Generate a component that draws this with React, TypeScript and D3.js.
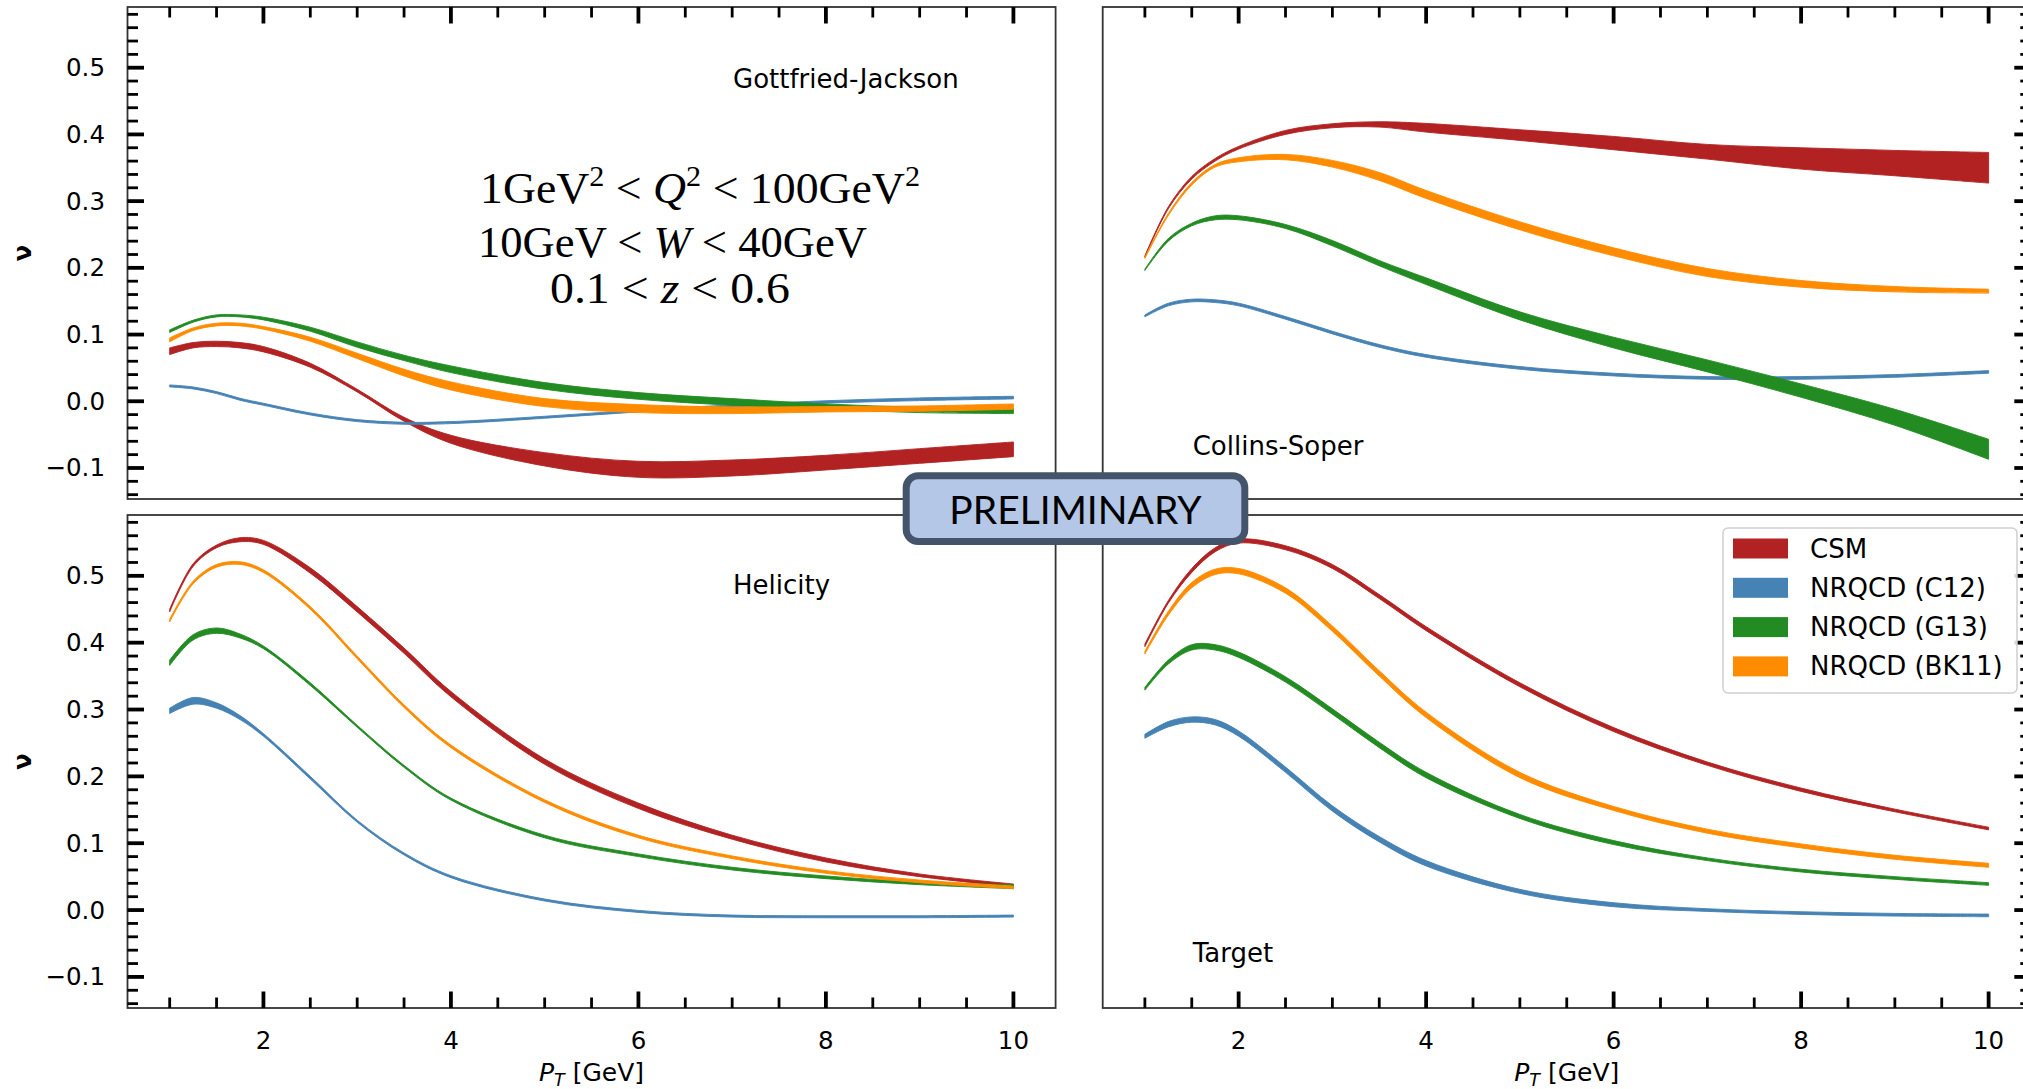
import React from 'react';
import * as d3 from 'd3';

// ---------- data ----------
const PT = [1, 1.25, 1.5, 1.75, 2, 2.5, 3, 3.5, 4, 5, 6, 7, 8, 9, 10];

// Gottfried-Jackson frame
const GJ_CSM = [0.075, 0.084, 0.086, 0.084, 0.078, 0.054, 0.016, -0.027, -0.057, -0.087, -0.102, -0.1, -0.092, -0.082, -0.072];
const GJ_CSM_ERR = [0.005, 0.004, 0.004, 0.004, 0.004, 0.003, 0.002, 0.003, 0.006, 0.01, 0.012, 0.012, 0.011, 0.011, 0.011];
const GJ_C12 = [0.023, 0.02, 0.013, 0.003, -0.0045, -0.019, -0.029, -0.033, -0.032, -0.024, -0.0145, -0.007, -0.001, 0.003, 0.0055];
const GJ_C12_ERR = [0.0015, 0.0015, 0.0015, 0.0015, 0.0015, 0.0015, 0.0015, 0.0015, 0.0015, 0.0015, 0.0015, 0.0015, 0.0018, 0.002, 0.002];
const GJ_G13 = [0.105, 0.12, 0.128, 0.128, 0.124, 0.108, 0.085, 0.065, 0.048, 0.023, 0.008, -0.001, -0.008, -0.013, -0.0145];
const GJ_G13_ERR = [0.002, 0.0015, 0.0015, 0.0015, 0.002, 0.003, 0.004, 0.004, 0.005, 0.005, 0.005, 0.005, 0.004, 0.004, 0.004];
const GJ_BK11 = [0.092, 0.108, 0.115, 0.115, 0.11, 0.093, 0.068, 0.043, 0.023, -0.002, -0.011, -0.0135, -0.012, -0.011, -0.008];
const GJ_BK11_ERR = [0.003, 0.002, 0.002, 0.002, 0.002, 0.003, 0.004, 0.005, 0.006, 0.006, 0.006, 0.005, 0.004, 0.004, 0.004];

// Collins-Soper frame
const CS_CSM = [0.217, 0.29, 0.335, 0.362, 0.38, 0.403, 0.413, 0.415, 0.41, 0.399, 0.387, 0.374, 0.364, 0.357, 0.35];
const CS_CSM_ERR = [0.001, 0.0015, 0.002, 0.002, 0.002, 0.003, 0.003, 0.004, 0.0065, 0.008, 0.01, 0.011, 0.016, 0.019, 0.023];
const CS_C12 = [0.128, 0.145, 0.151, 0.15, 0.145, 0.125, 0.103, 0.083, 0.068, 0.05, 0.04, 0.035, 0.035, 0.038, 0.044];
const CS_C12_ERR = [0.0015, 0.002, 0.002, 0.002, 0.002, 0.002, 0.002, 0.002, 0.002, 0.002, 0.002, 0.002, 0.002, 0.002, 0.002];
const CS_G13 = [0.197, 0.242, 0.265, 0.275, 0.275, 0.262, 0.237, 0.207, 0.18, 0.128, 0.088, 0.053, 0.016, -0.024, -0.072];
const CS_G13_ERR = [0.001, 0.002, 0.002, 0.003, 0.003, 0.003, 0.004, 0.004, 0.005, 0.006, 0.008, 0.009, 0.01, 0.012, 0.015];
const CS_BK11 = [0.215, 0.28, 0.326, 0.353, 0.362, 0.366, 0.356, 0.337, 0.31, 0.263, 0.224, 0.193, 0.176, 0.168, 0.165];
const CS_BK11_ERR = [0.001, 0.0015, 0.002, 0.002, 0.003, 0.004, 0.005, 0.006, 0.006, 0.006, 0.006, 0.006, 0.005, 0.004, 0.003];

// Helicity frame
const HX_CSM = [0.448, 0.516, 0.544, 0.554, 0.55, 0.508, 0.45, 0.388, 0.323, 0.222, 0.156, 0.109, 0.075, 0.052, 0.037];
const HX_CSM_ERR = [0.002, 0.002, 0.002, 0.003, 0.003, 0.004, 0.004, 0.004, 0.004, 0.004, 0.004, 0.003, 0.003, 0.002, 0.002];
const HX_C12 = [0.298, 0.313, 0.306, 0.288, 0.262, 0.198, 0.133, 0.084, 0.05, 0.015, -0.002, -0.009, -0.01, -0.01, -0.009];
const HX_C12_ERR = [0.004, 0.005, 0.004, 0.003, 0.002, 0.002, 0.0015, 0.0015, 0.0015, 0.0015, 0.0015, 0.0015, 0.0015, 0.0015, 0.0015];
const HX_G13 = [0.37, 0.408, 0.418, 0.41, 0.393, 0.338, 0.275, 0.215, 0.166, 0.11, 0.082, 0.062, 0.049, 0.04, 0.035];
const HX_G13_ERR = [0.004, 0.004, 0.004, 0.003, 0.002, 0.002, 0.0015, 0.0015, 0.0015, 0.002, 0.002, 0.002, 0.002, 0.002, 0.003];
const HX_BK11 = [0.433, 0.49, 0.515, 0.519, 0.507, 0.452, 0.378, 0.305, 0.245, 0.163, 0.11, 0.079, 0.057, 0.043, 0.034];
const HX_BK11_ERR = [0.002, 0.002, 0.002, 0.002, 0.002, 0.002, 0.002, 0.002, 0.002, 0.002, 0.002, 0.002, 0.002, 0.002, 0.002];

// Target frame
const TF_CSM = [0.396, 0.461, 0.508, 0.539, 0.552, 0.542, 0.514, 0.469, 0.421, 0.337, 0.27, 0.219, 0.18, 0.149, 0.122];
const TF_CSM_ERR = [0.002, 0.002, 0.003, 0.003, 0.003, 0.003, 0.003, 0.003, 0.003, 0.003, 0.003, 0.0025, 0.0025, 0.002, 0.002];
const TF_C12 = [0.26, 0.278, 0.285, 0.281, 0.264, 0.21, 0.152, 0.106, 0.07, 0.028, 0.008, 0.0, -0.0045, -0.007, -0.008];
const TF_C12_ERR = [0.003, 0.004, 0.004, 0.004, 0.004, 0.004, 0.004, 0.004, 0.004, 0.003, 0.003, 0.002, 0.002, 0.002, 0.002];
const TF_G13 = [0.331, 0.371, 0.393, 0.393, 0.382, 0.345, 0.297, 0.247, 0.202, 0.14, 0.101, 0.076, 0.059, 0.048, 0.039];
const TF_G13_ERR = [0.002, 0.003, 0.004, 0.004, 0.004, 0.004, 0.004, 0.004, 0.004, 0.003, 0.003, 0.002, 0.002, 0.002, 0.002];
const TF_BK11 = [0.385, 0.444, 0.486, 0.506, 0.507, 0.478, 0.421, 0.354, 0.292, 0.202, 0.152, 0.118, 0.096, 0.079, 0.067];
const TF_BK11_ERR = [0.002, 0.003, 0.004, 0.004, 0.004, 0.004, 0.004, 0.004, 0.004, 0.004, 0.003, 0.003, 0.003, 0.003, 0.003];

const MODEL_NAMES = ['CSM', 'NRQCD (C12)', 'NRQCD (G13)', 'NRQCD (BK11)'];
const MODEL_COLORS = ['#b22222', '#4682b4', '#228b22', '#ff8c00'];

const FRAME_LABELS = ['Gottfried-Jackson', 'Collins-Soper', 'Helicity', 'Target'];

const X_MAJOR = [2, 4, 6, 8, 10];
const X_TICK_LABELS = ['2', '4', '6', '8', '10'];
const Y_MAJOR = [-0.1, 0, 0.1, 0.2, 0.3, 0.4, 0.5];
const Y_TICK_LABELS = ['\u22120.1', '0.0', '0.1', '0.2', '0.3', '0.4', '0.5'];

const X_DOMAIN = [0.55, 10.45];
const Y_DOMAIN = [-0.1465, 0.591];

// ---------- layout ----------
const W = 2023;
const H = 1089;
const SANS = 'DejaVu Sans, sans-serif';

type Band = { c: number[]; e: number[] };

const PANELS = [
  {
    label: FRAME_LABELS[0], x0: 127.5, x1: 1055.6, y0: 7, y1: 499,
    xSide: 'top', ySide: 'left', labelX: 733, labelY: 88,
    bands: [{ c: GJ_CSM, e: GJ_CSM_ERR }, { c: GJ_C12, e: GJ_C12_ERR }, { c: GJ_G13, e: GJ_G13_ERR }, { c: GJ_BK11, e: GJ_BK11_ERR }],
  },
  {
    label: FRAME_LABELS[1], x0: 1102.7, x1: 2030.8, y0: 7, y1: 499,
    xSide: 'top', ySide: 'right', labelX: 1192.7, labelY: 455,
    bands: [{ c: CS_CSM, e: CS_CSM_ERR }, { c: CS_C12, e: CS_C12_ERR }, { c: CS_G13, e: CS_G13_ERR }, { c: CS_BK11, e: CS_BK11_ERR }],
  },
  {
    label: FRAME_LABELS[2], x0: 127.5, x1: 1055.6, y0: 515, y1: 1008,
    xSide: 'bottom', ySide: 'left', labelX: 733, labelY: 594,
    bands: [{ c: HX_CSM, e: HX_CSM_ERR }, { c: HX_C12, e: HX_C12_ERR }, { c: HX_G13, e: HX_G13_ERR }, { c: HX_BK11, e: HX_BK11_ERR }],
  },
  {
    label: FRAME_LABELS[3], x0: 1102.7, x1: 2030.8, y0: 515, y1: 1008,
    xSide: 'bottom', ySide: 'right', labelX: 1192.7, labelY: 962,
    bands: [{ c: TF_CSM, e: TF_CSM_ERR }, { c: TF_C12, e: TF_C12_ERR }, { c: TF_G13, e: TF_G13_ERR }, { c: TF_BK11, e: TF_BK11_ERR }],
  },
];

const MAJ_LEN = 16.5;
const MIN_LEN = 10.5;
const MAJ_W = 3.8;
const MIN_W = 2.8;

function Panel({ p, idx }: { p: any; idx: number }) {
  const xs = d3.scaleLinear().domain(X_DOMAIN).range([p.x0, p.x1]);
  const ys = d3.scaleLinear().domain(Y_DOMAIN).range([p.y1, p.y0]);
  const xMinor = d3.range(2, 21).map((i) => i * 0.5).filter((v) => !X_MAJOR.includes(v));
  const yMinor = d3.range(-7, 30).map((i) => Math.round(i * 2) / 100).filter((v) => Math.abs(Math.round(v * 10) - v * 10) > 1e-6);
  const clipId = `clip-${idx}`;

  const ticks: React.ReactNode[] = [];
  const xEdge = p.xSide === 'top' ? p.y0 : p.y1;
  const xDir = p.xSide === 'top' ? 1 : -1;
  X_MAJOR.forEach((v, i) => {
    const x = xs(v);
    ticks.push(<line key={`xM${i}`} x1={x} x2={x} y1={xEdge} y2={xEdge + xDir * MAJ_LEN} stroke="#000" strokeWidth={MAJ_W} />);
  });
  xMinor.forEach((v, i) => {
    const x = xs(v);
    ticks.push(<line key={`xm${i}`} x1={x} x2={x} y1={xEdge} y2={xEdge + xDir * MIN_LEN} stroke="#000" strokeWidth={MIN_W} />);
  });
  const yEdge = p.ySide === 'left' ? p.x0 : p.x1;
  const yDir = p.ySide === 'left' ? 1 : -1;
  Y_MAJOR.forEach((v, i) => {
    const y = ys(v);
    ticks.push(<line key={`yM${i}`} x1={yEdge} x2={yEdge + yDir * MAJ_LEN} y1={y} y2={y} stroke="#000" strokeWidth={MAJ_W} />);
  });
  yMinor.forEach((v, i) => {
    const y = ys(v);
    ticks.push(<line key={`ym${i}`} x1={yEdge} x2={yEdge + yDir * MIN_LEN} y1={y} y2={y} stroke="#000" strokeWidth={MIN_W} />);
  });

  const area = (b: Band) =>
    d3
      .area<number>()
      .x((_, i) => xs(PT[i]))
      .y0((_, i) => ys(b.c[i] - b.e[i]))
      .y1((_, i) => ys(b.c[i] + b.e[i]))
      .curve(d3.curveCatmullRom.alpha(0.5))(PT) as string;

  return (
    <g>
      <defs>
        <clipPath id={clipId}>
          <rect x={p.x0} y={p.y0} width={p.x1 - p.x0} height={p.y1 - p.y0} />
        </clipPath>
      </defs>
      <g clipPath={`url(#${clipId})`}>
        {p.bands.map((b: Band, i: number) => (
          <path key={i} d={area(b)} fill={MODEL_COLORS[i]} stroke={MODEL_COLORS[i]} strokeWidth={0.9} />
        ))}
      </g>
      <rect x={p.x0} y={p.y0} width={p.x1 - p.x0} height={p.y1 - p.y0} fill="none" stroke="#333" strokeWidth={1.8} />
      {ticks}
      {p.ySide === 'left' &&
        Y_MAJOR.map((v, i) => (
          <text key={`yl${i}`} x={105} y={ys(v)} textAnchor="end" dominantBaseline="central" fontFamily={SANS} fontSize={24.5} fill="#000">
            {Y_TICK_LABELS[i]}
          </text>
        ))}
      {p.xSide === 'bottom' &&
        X_MAJOR.map((v, i) => (
          <text key={`xl${i}`} x={xs(v)} y={1049} textAnchor="middle" fontFamily={SANS} fontSize={24.5} fill="#000">
            {X_TICK_LABELS[i]}
          </text>
        ))}
      {p.xSide === 'bottom' && (
        <text x={(p.x0 + p.x1) / 2} y={1081} textAnchor="middle" fontFamily={SANS} fontSize={25} fill="#000">
          <tspan fontStyle="italic">P</tspan>
          <tspan fontStyle="italic" fontSize={17.5} dy={5}>T</tspan>
          <tspan dy={-5}> [GeV]</tspan>
        </text>
      )}
      {p.ySide === 'left' && (
        <text
          transform={`translate(23, ${(p.y0 + p.y1) / 2}) rotate(-90)`}
          textAnchor="middle"
          dominantBaseline="central"
          fontFamily={SANS}
          fontWeight="bold"
          fontSize={24}
          fill="#000"
        >
          ν
        </text>
      )}
      <text x={p.labelX} y={p.labelY} fontFamily={SANS} fontSize={26} fill="#000">
        {p.label}
      </text>
    </g>
  );
}

function Legend() {
  const x0 = 1723;
  const y0 = 528;
  const rowY = (i: number) => 548.5 + i * 39.3;
  return (
    <g>
      <rect x={x0} y={y0} width={294} height={165} rx={5} fill="#fff" fillOpacity={0.85} stroke="#d0d0d0" strokeWidth={1.5} />
      {MODEL_NAMES.map((name, i) => (
        <g key={name}>
          <rect x={1733} y={rowY(i) - 10} width={55} height={20} fill={MODEL_COLORS[i]} />
          <text x={1810} y={rowY(i)} dominantBaseline="central" fontFamily={SANS} fontSize={26} fill="#000">
            {name}
          </text>
        </g>
      ))}
    </g>
  );
}

function Conditions() {
  const serif = 'Liberation Serif, Times New Roman, serif';
  return (
    <g fontFamily={serif} fill="#000">
      <text x={700} y={203} textAnchor="middle" fontSize={44} textLength={440} lengthAdjust="spacingAndGlyphs">
        <tspan>1GeV</tspan>
        <tspan fontSize={29} dy={-17}>2</tspan>
        <tspan dy={17}>{' < '}</tspan>
        <tspan fontStyle="italic">Q</tspan>
        <tspan fontSize={29} dy={-17}>2</tspan>
        <tspan dy={17}>{' < 100GeV'}</tspan>
        <tspan fontSize={29} dy={-17}>2</tspan>
      </text>
      <text x={672.5} y={257} textAnchor="middle" fontSize={44} textLength={389} lengthAdjust="spacingAndGlyphs">
        <tspan>{'10GeV < '}</tspan>
        <tspan fontStyle="italic">W</tspan>
        <tspan>{' < 40GeV'}</tspan>
      </text>
      <text x={670} y={303} textAnchor="middle" fontSize={44} textLength={240} lengthAdjust="spacingAndGlyphs">
        <tspan>{'0.1 < '}</tspan>
        <tspan fontStyle="italic">z</tspan>
        <tspan>{' < 0.6'}</tspan>
      </text>
    </g>
  );
}

function Preliminary() {
  return (
    <g>
      <rect x={906.2} y={475.8} width={338.6} height={65.7} rx={12} fill="#b4c7e7" stroke="#44546a" strokeWidth={7} />
      <text x={1075.5} y={509} textAnchor="middle" dominantBaseline="central" fontFamily="Lato, Open Sans, sans-serif" fontSize={39} fill="#000">
        PRELIMINARY
      </text>
    </g>
  );
}

export default function App() {
  return (
    <svg
      width={W}
      height={H}
      viewBox={`0 0 ${W} ${H}`}
      style={{ position: 'absolute', left: 0, top: 0, display: 'block' }}
    >
      <rect x={0} y={0} width={W} height={H} fill="#fff" />
      {PANELS.map((p, i) => (
        <Panel key={i} p={p} idx={i} />
      ))}
      <Conditions />
      <Legend />
      <Preliminary />
    </svg>
  );
}
